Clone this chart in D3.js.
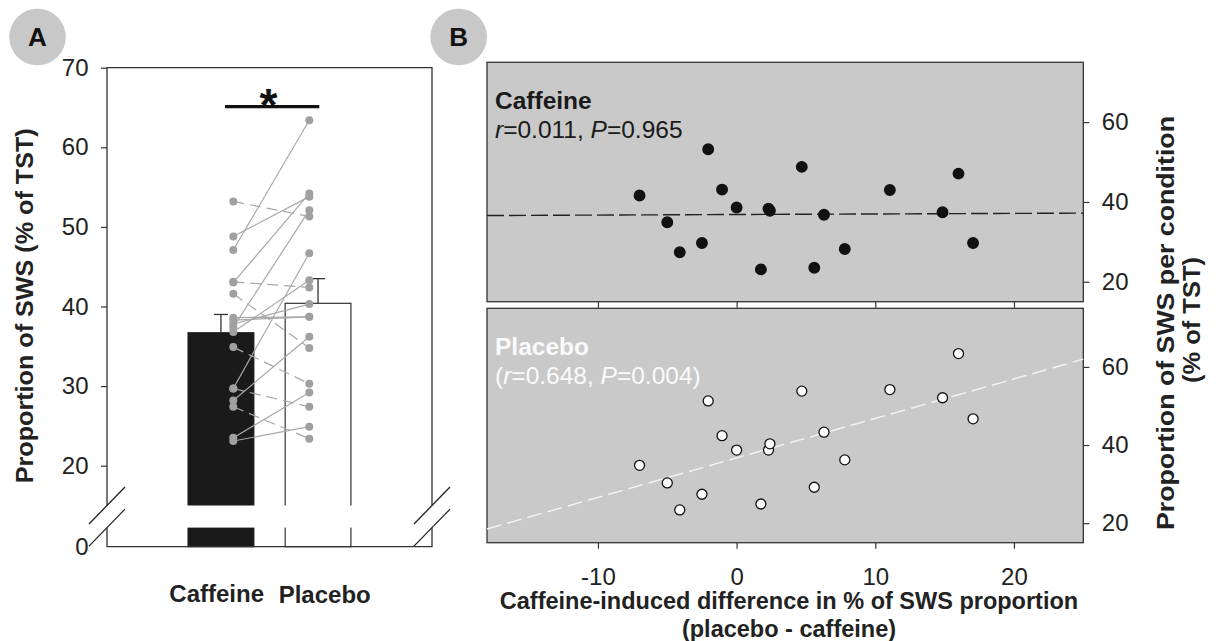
<!DOCTYPE html>
<html>
<head>
<meta charset="utf-8">
<script src="https://cdn.jsdelivr.net/npm/d3@7"></script>
<style>
  body { margin: 0; background: #fff; }
  svg { display: block; font-family: "Liberation Sans", Arial, sans-serif; }
</style>
</head>
<body>
<div id="chart"></div>
<script>
const width = 1219, height = 641;

// data
const conditions = ['Caffeine', 'Placebo'];
const barMeans = [36.7, 40.4];
const barSE = [2.3, 3.1];
const caffeine = [41.6, 34.9, 27.4, 29.7, 53.2, 43.1, 38.6, 23.1, 38.3, 37.8, 48.8, 23.5, 36.8, 28.2, 43.0, 37.4, 47.1, 29.7];
const placebo  = [34.8, 30.3, 23.4, 27.4, 51.3, 42.4, 38.7, 24.9, 38.7, 40.3, 53.8, 29.2, 43.3, 36.2, 54.2, 52.1, 63.4, 46.7];
const diffs    = [-7.0, -5.0, -4.1, -2.5, -2.05, -1.05, 0.0, 1.75, 2.3, 2.4, 4.7, 5.6, 6.3, 7.8, 11.05, 14.85, 16.0, 17.05];
const fitIntercepts = [36.85, 36.7];
const fitSlopes = [0.014, 1.011];
const statR = ['0.011', '0.648'];
const statP = ['0.965', '0.004'];
const yTicksA = [20, 30, 40, 50, 60, 70];
const yTicksB = [20, 40, 60];
const xTicksB = [-10, 0, 10, 20];

const svg = d3.select('#chart').append('svg')
    .attr('width', width)
    .attr('height', height);

const dark = '#222';
const frameColor = '#333';

// ---------- panel A ----------
const A = {left: 107, right: 432, top: 67.7, bottom: 546.7};
const yA = d3.scaleLinear().domain([20, 70]).range([465.7, 67.7]);
const yLow = d3.scaleLinear().domain([0, 2.4]).range([A.bottom, 527.6]);
const breakTop = yA(15), breakBottom = yLow(2.4);

const xA = d3.scaleBand().domain(conditions).range([A.left, A.right])
    .paddingInner(0.323).paddingOuter(0.835);
const xDots = d3.scalePoint().domain(conditions).range([233.3, 309.3]);

const gA = svg.append('g').attr('id', 'panelA');

gA.selectAll('rect.bar')
  .data(conditions)
  .join('rect')
    .attr('class', 'bar')
    .attr('x', d => xA(d))
    .attr('y', (d, i) => yA(barMeans[i]))
    .attr('width', xA.bandwidth())
    .attr('height', (d, i) => yLow(0) - yA(barMeans[i]))
    .attr('fill', (d, i) => i == 0 ? '#1a1a1a' : '#fff')
    .attr('stroke', (d, i) => i == 0 ? '#1a1a1a' : frameColor)
    .attr('stroke-width', 1.2);

// error bars (upper only)
conditions.forEach((c, i) => {
  const cx = xA(c) + xA.bandwidth() / 2;
  gA.append('line')
    .attr('x1', cx).attr('x2', cx)
    .attr('y1', yA(barMeans[i])).attr('y2', yA(barMeans[i] + barSE[i]))
    .attr('stroke', frameColor).attr('stroke-width', 1.3);
  gA.append('line')
    .attr('x1', cx - 7).attr('x2', cx + 7)
    .attr('y1', yA(barMeans[i] + barSE[i])).attr('y2', yA(barMeans[i] + barSE[i]))
    .attr('stroke', frameColor).attr('stroke-width', 1.3);
});

// white gap of the broken axis
gA.append('rect')
  .attr('x', A.left + 20).attr('y', breakTop)
  .attr('width', A.right - A.left - 40).attr('height', breakBottom - breakTop)
  .attr('fill', '#fff');

// paired subject lines
gA.selectAll('line.pair')
  .data(caffeine)
  .join('line')
    .attr('class', 'pair')
    .attr('x1', xDots('Caffeine'))
    .attr('x2', xDots('Placebo'))
    .attr('y1', d => yA(d))
    .attr('y2', (d, i) => yA(placebo[i]))
    .attr('stroke', '#a8a8a8')
    .attr('stroke-width', 1.2)
    .attr('stroke-dasharray', (d, i) => placebo[i] < d ? '11 6' : null);

gA.selectAll('circle.caf')
  .data(caffeine)
  .join('circle')
    .attr('class', 'caf')
    .attr('cx', xDots('Caffeine'))
    .attr('cy', d => yA(d))
    .attr('r', 4)
    .attr('fill', '#a0a0a0');

gA.selectAll('circle.pla')
  .data(placebo)
  .join('circle')
    .attr('class', 'pla')
    .attr('cx', xDots('Placebo'))
    .attr('cy', d => yA(d))
    .attr('r', 4)
    .attr('fill', '#a0a0a0');

// frame with the break
const frameA = d3.path();
frameA.moveTo(A.left, breakTop); frameA.lineTo(A.left, A.top);
frameA.lineTo(A.right, A.top); frameA.lineTo(A.right, breakTop);
frameA.moveTo(A.left, breakBottom); frameA.lineTo(A.left, A.bottom);
frameA.lineTo(A.right, A.bottom); frameA.lineTo(A.right, breakBottom);
gA.append('path')
  .attr('d', frameA.toString())
  .attr('fill', 'none')
  .attr('stroke', frameColor)
  .attr('stroke-width', 1.3);

// break slashes
[A.left, A.right].forEach(x => {
  [breakTop, breakBottom].forEach(y => {
    gA.append('line')
      .attr('x1', x - 18).attr('y1', y + 18.5)
      .attr('x2', x + 18).attr('y2', y - 18.5)
      .attr('stroke', dark).attr('stroke-width', 1.3);
  });
});

const axisA = gA.append('g')
  .attr('transform', `translate(${A.left},0)`)
  .call(d3.axisLeft(yA).tickValues(yTicksA).tickSize(6).tickPadding(12.5));
axisA.select('.domain').remove();
axisA.selectAll('line').attr('stroke', frameColor).attr('stroke-width', 1.2);
axisA.selectAll('text').attr('font-size', 24).attr('fill', dark)
  .attr('font-family', '"Liberation Sans", Arial, sans-serif');

gA.append('text')
  .attr('x', A.left - 18.5).attr('y', yLow(0)).attr('dy', '0.35em')
  .attr('text-anchor', 'end').attr('font-size', 24).attr('fill', dark)
  .text('0');

// significance
gA.append('line')
  .attr('x1', 225).attr('x2', 319.3)
  .attr('y1', 106.7).attr('y2', 106.7)
  .attr('stroke', '#111').attr('stroke-width', 3.3);
gA.append('text')
  .attr('x', 268.5).attr('y', 121)
  .attr('text-anchor', 'middle').attr('font-size', 46).attr('font-weight', 'bold')
  .attr('fill', '#111')
  .text('*');

gA.selectAll('text.cond')
  .data(conditions)
  .join('text')
    .attr('class', 'cond')
    .attr('x', (d, i) => i == 0 ? 216.7 : 324.7)
    .attr('y', (d, i) => i == 0 ? 601.7 : 603.3)
    .attr('text-anchor', 'middle')
    .attr('font-size', 24).attr('font-weight', 'bold').attr('fill', dark)
    .text(d => d);

gA.append('text')
  .attr('transform', `translate(33,305.8) rotate(-90)`)
  .attr('text-anchor', 'middle')
  .attr('font-size', 24.5).attr('font-weight', 'bold').attr('fill', dark)
  .attr('textLength', 355).attr('lengthAdjust', 'spacingAndGlyphs')
  .text('Proportion of SWS (% of TST)');

// ---------- panel B ----------
const B = {left: 487, right: 1083.3};
const xB = d3.scaleLinear().domain([-18, 25]).range([B.left, B.right]);
const panelsB = [
  {name: 'Caffeine', top: 62.3, bottom: 301.7, fill: '#111', stroke: '#111', line: '#222', dash: '17 5', text: '#1a1a1a'},
  {name: 'Placebo', top: 308.3, bottom: 542.7, fill: '#fff', stroke: '#111', line: '#f4f4f4', dash: '15 6', text: '#fafafa'}
];
const seriesB = [caffeine, placebo];

panelsB.forEach((p, k) => {
  const g = svg.append('g').attr('class', 'panelB');
  const y = d3.scaleLinear().domain([15, 75]).range([p.bottom, p.top]);

  g.append('rect')
    .attr('x', B.left).attr('y', p.top)
    .attr('width', B.right - B.left).attr('height', p.bottom - p.top)
    .attr('fill', '#c9c9c9')
    .attr('stroke', frameColor).attr('stroke-width', 1.3);

  g.append('line')
    .attr('x1', xB(-18)).attr('x2', xB(25))
    .attr('y1', y(fitIntercepts[k] + fitSlopes[k] * -18))
    .attr('y2', y(fitIntercepts[k] + fitSlopes[k] * 25))
    .attr('stroke', p.line).attr('stroke-width', 1.4)
    .attr('stroke-dasharray', p.dash);

  g.selectAll('circle')
    .data(seriesB[k])
    .join('circle')
      .attr('cx', (d, i) => xB(diffs[i]))
      .attr('cy', d => y(d))
      .attr('r', k == 0 ? 5.3 : 5)
      .attr('fill', p.fill)
      .attr('stroke', p.stroke)
      .attr('stroke-width', 1.3);

  const xAxis = g.append('g')
    .attr('transform', `translate(0,${p.bottom})`)
    .call(d3.axisBottom(xB).tickValues(xTicksB).tickSize(6).tickPadding(19.3)
      .tickFormat(d => k == 1 ? String(d) : ''));
  xAxis.select('.domain').remove();
  xAxis.selectAll('line').attr('stroke', frameColor).attr('stroke-width', 1.2);
  xAxis.selectAll('text').attr('font-size', 24).attr('fill', dark)
    .attr('font-family', '"Liberation Sans", Arial, sans-serif');

  const yAxis = g.append('g')
    .attr('transform', `translate(${B.right},0)`)
    .call(d3.axisRight(y).tickValues(yTicksB).tickSize(6).tickPadding(12.5));
  yAxis.select('.domain').remove();
  yAxis.selectAll('line').attr('stroke', frameColor).attr('stroke-width', 1.2);
  yAxis.selectAll('text').attr('font-size', 24).attr('fill', dark)
    .attr('font-family', '"Liberation Sans", Arial, sans-serif');

  g.append('text')
    .attr('x', 495).attr('y', p.top + 47)
    .attr('font-size', 24.5).attr('font-weight', 'bold').attr('fill', p.text)
    .text(p.name);

  const stat = g.append('text')
    .attr('x', 495).attr('y', p.top + 76)
    .attr('font-size', 24.5).attr('fill', p.text);
  if (k == 1) stat.append('tspan').text('(');
  stat.append('tspan').attr('font-style', 'italic').text('r');
  stat.append('tspan').text(`=${statR[k]}, `);
  stat.append('tspan').attr('font-style', 'italic').text('P');
  stat.append('tspan').text(`=${statP[k]}`);
  if (k == 1) stat.append('tspan').text(')');
});

svg.append('text')
  .attr('x', 789).attr('y', 608.8)
  .attr('text-anchor', 'middle')
  .attr('font-size', 23.5).attr('font-weight', 'bold').attr('fill', dark)
  .text('Caffeine-induced difference in % of SWS proportion');
svg.append('text')
  .attr('x', 789).attr('y', 637)
  .attr('text-anchor', 'middle')
  .attr('font-size', 23.5).attr('font-weight', 'bold').attr('fill', dark)
  .text('(placebo - caffeine)');

svg.append('text')
  .attr('transform', `translate(1174,323) rotate(-90)`)
  .attr('text-anchor', 'middle')
  .attr('font-size', 24.5).attr('font-weight', 'bold').attr('fill', dark)
  .attr('textLength', 414).attr('lengthAdjust', 'spacingAndGlyphs')
  .text('Proportion of SWS per condition');
svg.append('text')
  .attr('transform', `translate(1199.5,320) rotate(-90)`)
  .attr('text-anchor', 'middle')
  .attr('font-size', 24.5).attr('font-weight', 'bold').attr('fill', dark)
  .attr('textLength', 126).attr('lengthAdjust', 'spacingAndGlyphs')
  .text('(% of TST)');

// panel letters
const letters = ['A', 'B'];
const letterX = [37.5, 458.7];
letters.forEach((l, i) => {
  svg.append('circle')
    .attr('cx', letterX[i]).attr('cy', 37)
    .attr('r', 28.3)
    .attr('fill', '#c8c8c8');
  svg.append('text')
    .attr('x', letterX[i]).attr('y', 37).attr('dy', '0.36em')
    .attr('text-anchor', 'middle')
    .attr('font-size', 26).attr('font-weight', 'bold').attr('fill', '#111')
    .text(l);
});
</script>
</body>
</html>
